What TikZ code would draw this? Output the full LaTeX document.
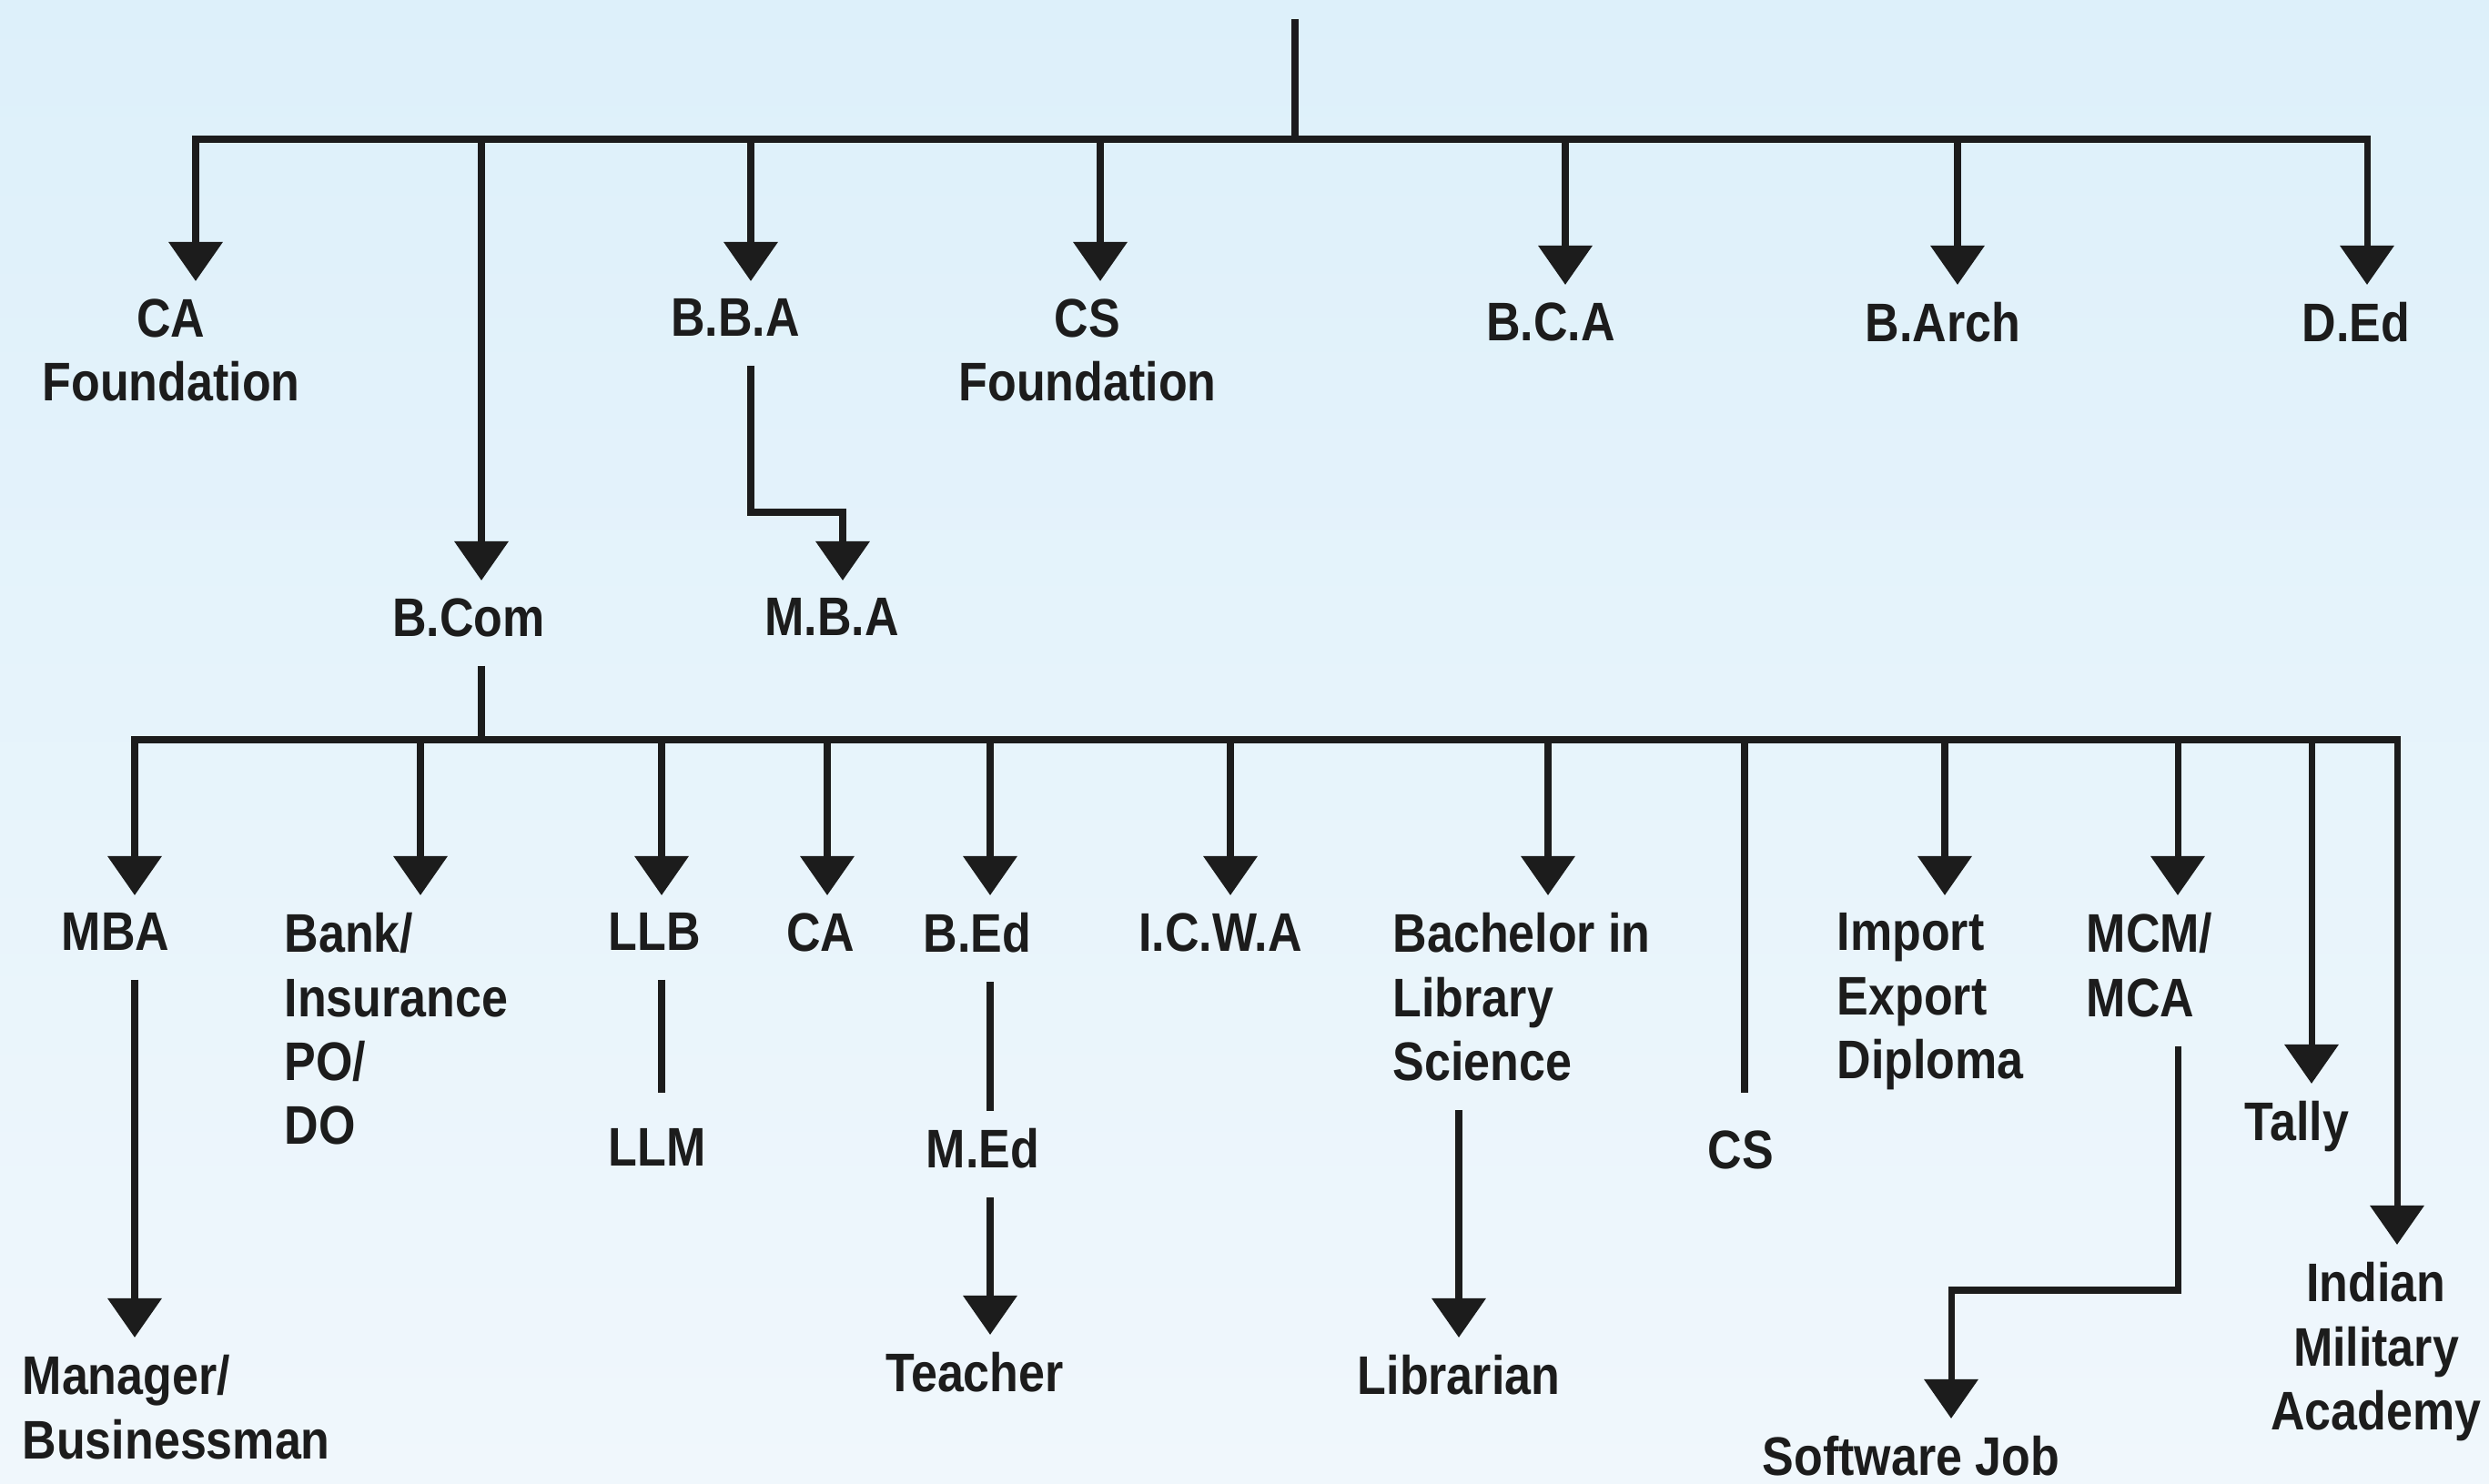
\documentclass[tikz,border=0pt]{standalone}
\usepackage{fontspec}
\setmainfont{Liberation Sans}[FakeStretch=0.87]
\usetikzlibrary{arrows.meta}
\definecolor{ink}{RGB}{28,28,28}
\definecolor{skytop}{RGB}{221,240,250}
\definecolor{skybot}{RGB}{240,247,252}
\tikzset{
	tri/.tip={Triangle[width=0.58cm,length=0.43cm]},
	lbl/.style={font=\fontsize{17}{20}\selectfont\bfseries, text=ink, inner xsep=0.05cm, inner ysep=0.19cm, anchor=north, align=center},
	lbll/.style={lbl, anchor=north west, align=left},
	bar/.style={draw=ink, line width=2pt},
	drop/.style={bar, -tri},
	link/.style={drop, shorten <=0.12cm},
	tie/.style={bar, shorten <=0.12cm}
}
\begin{document}
\begin{tikzpicture}
		\useasboundingbox (0,0) rectangle (27.35,16.30);
		\shade[top color=skytop, bottom color=skybot] (0,0) rectangle (27.35,16.30);
		% các điểm trên thanh ngang thứ nhất
		\coordinate (root) at (14.23,16.09);
		\coordinate (j1) at (14.23,14.77);
		\coordinate (f-ca) at (2.15,14.77);
		\coordinate (f-bcom) at (5.29,14.77);
		\coordinate (f-bba) at (8.25,14.77);
		\coordinate (f-cs) at (12.09,14.77);
		\coordinate (f-bca) at (17.20,14.77);
		\coordinate (f-barch) at (21.51,14.77);
		\coordinate (f-ded) at (26.01,14.77);
		\coordinate (t-bba) at (9.26,10.67);
		% các điểm trên thanh ngang thứ hai
		\coordinate (j2) at (5.29,8.17);
		\coordinate (f-mba) at (1.48,8.17);
		\coordinate (f-bank) at (4.62,8.17);
		\coordinate (f-llb) at (7.27,8.17);
		\coordinate (f-ca2) at (9.09,8.17);
		\coordinate (f-bed) at (10.88,8.17);
		\coordinate (f-icwa) at (13.52,8.17);
		\coordinate (f-bls) at (17.01,8.17);
		\coordinate (f-cs2) at (19.17,8.17);
		\coordinate (f-iex) at (21.37,8.17);
		\coordinate (f-mcm) at (23.93,8.17);
		\coordinate (f-tally) at (25.40,8.17);
		\coordinate (f-ima) at (26.34,8.17);
		\coordinate (t-mcm) at (21.44,2.12);
		% nhãn
		\node[lbl] (ca) at (1.88,13.21) {CA\\Foundation};
		\node[lbl] (bba) at (8.08,13.21) {B.B.A};
		\node[lbl] (cs) at (11.95,13.21) {CS\\Foundation};
		\node[lbl] (bca) at (17.04,13.17) {B.C.A};
		\node[lbl] (barch) at (21.35,13.17) {B.Arch};
		\node[lbl] (ded) at (25.89,13.17) {D.Ed};
		\node[lbl] (bcom) at (5.15,9.92) {B.Com};
		\node[lbl] (mba1) at (9.14,9.92) {M.B.A};
		\node[lbl] (mba) at (1.27,6.46) {MBA};
		\node[lbll] (bank) at (3.07,6.46) {Bank/\\Insurance\\PO/\\DO};
		\node[lbl] (llb) at (7.19,6.46) {LLB};
		\node[lbl] (ca2) at (9.02,6.46) {CA};
		\node[lbl] (bed) at (10.74,6.46) {B.Ed};
		\node[lbl] (icwa) at (13.41,6.46) {I.C.W.A};
		\node[lbll] (bls) at (15.25,6.46) {Bachelor in\\Library\\Science};
		\node[lbl] (cs2) at (19.13,4.07) {CS};
		\node[lbll] (iex) at (20.13,6.46) {Import\\Export\\Diploma};
		\node[lbll] (mcm) at (22.87,6.46) {MCM/\\MCA};
		\node[lbl] (tally) at (25.24,4.39) {Tally};
		\node[lbl] (ima) at (26.11,2.62) {Indian\\Military\\Academy};
		\node[lbl] (llm) at (7.22,4.09) {LLM};
		\node[lbl] (med) at (10.80,4.09) {M.Ed};
		\node[lbll] (mgr) at (0.19,1.60) {Manager/\\Businessman};
		\node[lbl] (tch) at (10.71,1.63) {Teacher};
		\node[lbl] (lib) at (16.03,1.60) {Librarian};
		\node[lbl] (sw) at (21.00,0.71) {Software Job};
		% nhánh trên
		\draw[bar] (root) -- (j1);
		\draw[bar, tri-tri] (f-ca |- ca.north) -- (f-ca) -- (f-ded) -- (f-ded |- ded.north);
		\foreach \c in {bcom,bba,cs,bca,barch}
			\draw[drop] (f-\c) -- (f-\c |- \c.north);
		\draw[link] (f-bba |- bba.south) |- (t-bba) -- (t-bba |- mba1.north);
		% nhánh B.Com
		\draw[tie] (f-bcom |- bcom.south) -- (j2);
		\draw[bar, tri-tri] (f-mba |- mba.north) -- (f-mba) -- (f-ima) -- (f-ima |- ima.north);
		\foreach \c in {bank,llb,ca2,bed,icwa,bls,iex,mcm,tally}
			\draw[drop] (f-\c) -- (f-\c |- \c.north);
		\draw[bar, shorten >=0.22cm] (f-cs2) -- (f-cs2 |- cs2.north);
		\draw[link] (f-mba |- mba.south) -- (f-mba |- mgr.north);
		\draw[tie, shorten >=0.2cm] (f-llb |- llb.south) -- (f-llb |- llm.north);
		\draw[tie] (f-bed |- bed.south) -- (f-bed |- med.north);
		\draw[link] (f-bed |- med.south) -- (f-bed |- tch.north);
		\draw[link] (lib |- bls.south) -- (lib.north);
		\draw[link] (f-mcm |- mcm.south) |- (t-mcm) -- (t-mcm |- sw.north);
\end{tikzpicture}
\end{document}
